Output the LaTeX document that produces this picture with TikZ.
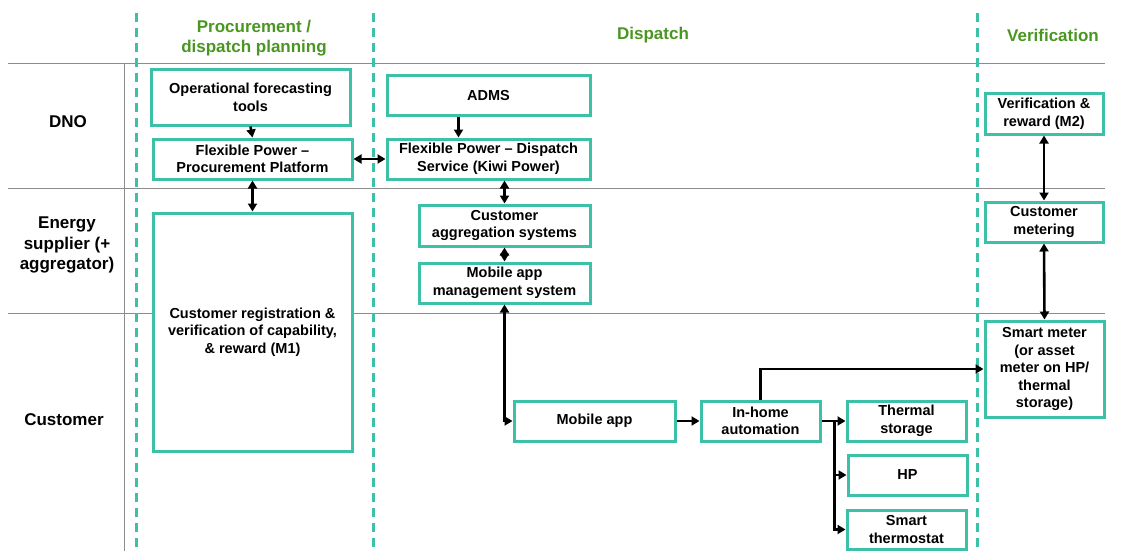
\documentclass[tikz,border=0pt]{standalone}
\usepackage{fontspec}
\setmainfont{Liberation Sans}
\usetikzlibrary{arrows.meta}
\definecolor{boxteal}{HTML}{3CC0A8}
\definecolor{leaf}{HTML}{4A9622}
\definecolor{rule}{HTML}{8C8C8C}

\begin{document}
\begin{tikzpicture}[x=1pt, y=-1pt,
    box/.style={draw=boxteal, line width=3pt, fill=white, align=center, inner sep=2pt,
      font=\fontsize{14.5}{17.5}\selectfont\bfseries},
    head/.style={text=leaf, align=center, font=\fontsize{17}{20}\selectfont\bfseries},
    rowlabel/.style={align=center, font=\fontsize{17}{20.5}\selectfont\bfseries},
    link/.style={line width=2.6pt, -{Triangle[length=8pt,width=9pt]}},
    both/.style={line width=2.6pt, {Triangle[length=8pt,width=9pt]}-{Triangle[length=8pt,width=9pt]}}]
      \useasboundingbox (0,0) rectangle (1133,551);

      % Draw the swimlane grid
      \draw[rule, line width=1pt] (8,64) -- (1105,64);
      \draw[rule, line width=1pt] (8,188) -- (1105,188);
      \draw[rule, line width=1pt] (8,313) -- (1105,313);
      \draw[rule, line width=1pt] (124,64) -- (124,551);

      % Phase separators
      \foreach \x in {136,373,977}
        \draw[boxteal, line width=3pt, dash pattern=on 9pt off 6pt] (\x,13) -- (\x,551);

      % Column and row headings
      \node[head] (hproc) at (254,38) {Procurement /\\dispatch planning};
      \node[head] (hdisp) at (653,35) {Dispatch};
      \node[head] (hverif) at (1053,35) {Verification};
      \node[rowlabel] (rdno) at (68,122) {DNO};
      \node[rowlabel] (rsupp) at (67,245) {Energy\\supplier (+\\aggregator)};
      \node[rowlabel] (rcust) at (64,420) {Customer};

      % Procurement column
      \node[box, minimum width=199pt, minimum height=55pt] (ops) at (250.5,97.5) {Operational forecasting\\tools};
      \node[box, minimum width=199pt, minimum height=40pt] (fppp) at (252.5,159) {Flexible Power --\\Procurement Platform};
      \node[box, minimum width=199pt, minimum height=238pt] (creg) at (252.5,332) {Customer registration \&\\verification of capability,\\\& reward (M1)};

      % Dispatch column
      \node[box, minimum width=203pt, minimum height=39pt] (adms) at (488.5,95.5) {ADMS};
      \node[box, minimum width=203pt, minimum height=40pt] (fpds) at (488.5,159) {Flexible Power -- Dispatch\\Service (Kiwi Power)};
      \node[box, minimum width=171pt, minimum height=41pt] (cagg) at (504.5,225.5) {Customer\\aggregation systems};
      \node[box, minimum width=171pt, minimum height=40pt] (mams) at (504.5,283) {Mobile app\\management system};
      \node[box, minimum width=161pt, minimum height=40pt] (mapp) at (594.5,421) {Mobile app};
      \node[box, minimum width=119pt, minimum height=40pt] (iha) at (760.5,421) {In-home\\automation};
      \node[box, minimum width=119pt, minimum height=40pt] (tstor) at (906.5,421) {Thermal\\storage};
      \node[box, minimum width=119pt, minimum height=40pt] (hp) at (907.5,475) {HP};
      \node[box, minimum width=119pt, minimum height=39pt] (sthermo) at (906.5,529.5) {Smart\\thermostat};

      % Verification column
      \node[box, minimum width=118pt, minimum height=40pt] (verif) at (1044,114) {Verification \&\\reward (M2)};
      \node[box, minimum width=118pt, minimum height=40pt] (cmeter) at (1044,222) {Customer\\metering};
      \node[box, minimum width=119pt, minimum height=96pt] (smeter) at (1044.5,369) {Smart meter\\(or asset\\meter on HP/\\thermal\\storage)};

      % Connectors
      \draw[link] (ops.south) -- (fppp.north);
      \draw[both] (fppp.east) -- (fpds.west);
      \draw[both] (fppp.south) -- (creg.north);
      \draw[link] ([xshift=-30pt]adms.south) -- ([xshift=-30pt]adms.south |- fpds.north);
      \draw[both] (fpds.south -| cagg.north) -- (cagg.north);
      \draw[both] (cagg.south) -- (mams.north);
      \draw[both] (mams.south) |- (mapp.west);
      \draw[link] (mapp.east) -- (iha.west);
      \draw[link] (iha.north) |- (smeter.west);
      \coordinate (split) at ([xshift=13pt]iha.east);
      \draw[link] (iha.east) -- (tstor.west);
      \draw[link] (split) |- (hp.west);
      \draw[link] (split) |- (sthermo.west);
      \draw[both] (verif.south) -- (cmeter.north);
      \draw[both] (cmeter.south) -- (smeter.north);
\end{tikzpicture}
\end{document}
